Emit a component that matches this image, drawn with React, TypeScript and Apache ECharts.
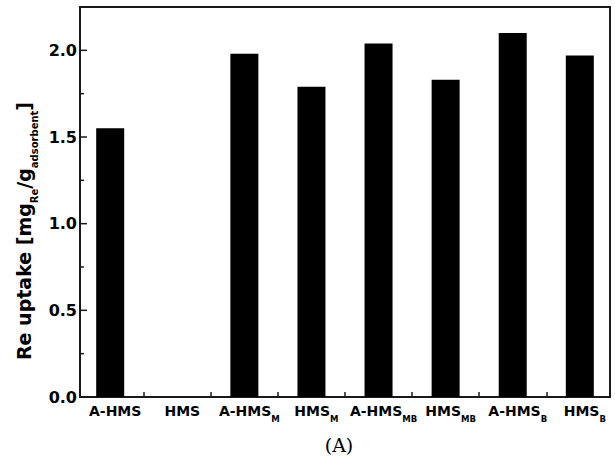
import React, { useEffect, useRef } from "react";
import * as echarts from "echarts";

// Adsorbent samples: base name plus subscript
const categoryBase = ["A-HMS", "HMS", "A-HMS", "HMS", "A-HMS", "HMS", "A-HMS", "HMS"];
const categorySub = ["", "", "M", "M", "MB", "MB", "B", "B"];
// Re uptake, mg Re per g adsorbent
const uptake = [1.55, 0, 1.98, 1.79, 2.04, 1.83, 2.1, 1.97];
// y ticks: labelled (major) and unlabelled (minor)
const yMajorTicks = [0, 0.5, 1.0, 1.5, 2.0];
const yMinorTicks = [0.25, 0.75, 1.25, 1.75];
// boundaries between neighbouring samples
const xBoundaryTicks = [0.5, 1.5, 2.5, 3.5, 4.5, 5.5, 6.5];

const FONT = "'DejaVu Sans', 'Liberation Sans', Arial, sans-serif";
const AXIS_COLOR = "#1a1a1a";
const X_MIN = -0.45;
const X_MAX = 7.45;

export default function App() {
  const ref = useRef<HTMLDivElement>(null);

  useEffect(() => {
    if (!ref.current) return;
    const chart = echarts.init(ref.current, undefined, { renderer: "svg" });

    const axisLine = { show: true, onZero: false, lineStyle: { color: AXIS_COLOR, width: 2 } };

    // inward-pointing y ticks on the left frame: [x, y value, tick length in px]
    const yTickData = [
      ...yMajorTicks.map((v) => [X_MIN, v, 7]),
      ...yMinorTicks.map((v) => [X_MIN, v, 4]),
    ];

    chart.setOption({
      animation: false,
      backgroundColor: "#fff",
      grid: {
        left: 80,
        top: 7,
        width: 530,
        height: 390,
        show: true,
        borderColor: AXIS_COLOR,
        borderWidth: 2,
        backgroundColor: "transparent",
      },
      xAxis: {
        type: "value",
        min: X_MIN,
        max: X_MAX,
        splitLine: { show: false },
        axisLine,
        axisTick: {
          show: true,
          inside: true,
          length: 5,
          customValues: xBoundaryTicks,
          lineStyle: { color: AXIS_COLOR, width: 1.5 },
        },
        axisLabel: {
          customValues: categoryBase.map((_, i) => i),
          margin: 5,
          padding: [0, 0, 0, 10],
          formatter: (v: number) => {
            const i = Math.round(v);
            const sub = categorySub[i];
            return sub ? `{b|${categoryBase[i]}}{s|${sub}}` : `{b|${categoryBase[i]}}`;
          },
          rich: {
            b: { fontFamily: FONT, fontWeight: "bold", fontSize: 14, color: "#000", lineHeight: 17 },
            s: {
              fontFamily: FONT,
              fontWeight: "bold",
              fontSize: 8.5,
              color: "#000",
              lineHeight: 10,
              verticalAlign: "bottom",
              padding: [0, 0, -4, 0],
            },
          },
        },
      },
      yAxis: {
        type: "value",
        min: 0,
        max: 2.25,
        interval: 0.5,
        splitLine: { show: false },
        axisLine,
        axisTick: { show: false },
        axisLabel: {
          customValues: yMajorTicks,
          margin: 3,
          fontFamily: FONT,
          fontWeight: "bold",
          fontSize: 16,
          color: "#000",
          formatter: (v: number) => v.toFixed(1),
        },
      },
      series: [
        {
          type: "bar",
          barWidth: 28,
          itemStyle: { color: "#000" },
          data: uptake.map((v, i) => [i, v]),
        },
        {
          type: "custom",
          silent: true,
          clip: false,
          z: 10,
          encode: { x: 0, y: 1 },
          data: yTickData,
          renderItem: (_params: any, api: any) => {
            const p = api.coord([api.value(0), api.value(1)]);
            const len = api.value(2);
            return {
              type: "line",
              shape: { x1: p[0], y1: p[1], x2: p[0] + len, y2: p[1] },
              style: { stroke: AXIS_COLOR, lineWidth: 1.5 },
            };
          },
        },
      ],
      graphic: [
        {
          type: "text",
          x: 24,
          y: 231,
          rotation: Math.PI / 2,
          style: {
            text: "{t|Re uptake [mg}{s|Re}{t|/g}{s|adsorbent}{t|]}",
            align: "center",
            verticalAlign: "middle",
            rich: {
              t: { fontFamily: FONT, fontWeight: "bold", fontSize: 19, fill: "#000", lineHeight: 23 },
              s: {
                fontFamily: FONT,
                fontWeight: "bold",
                fontSize: 10,
                fill: "#000",
                lineHeight: 12,
                verticalAlign: "bottom",
                padding: [0, 0, -4, 0],
              },
            },
          },
        },
        {
          type: "text",
          x: 339,
          y: 445,
          style: {
            text: "(A)",
            align: "center",
            verticalAlign: "middle",
            fontFamily: "'DejaVu Serif', 'Liberation Serif', serif",
            fontSize: 19,
            fill: "#000",
          },
        },
      ],
    });

    return () => chart.dispose();
  }, []);

  return (
    <div
      ref={ref}
      style={{ position: "fixed", left: 0, top: 0, width: 615, height: 456, background: "#fff" }}
    />
  );
}
